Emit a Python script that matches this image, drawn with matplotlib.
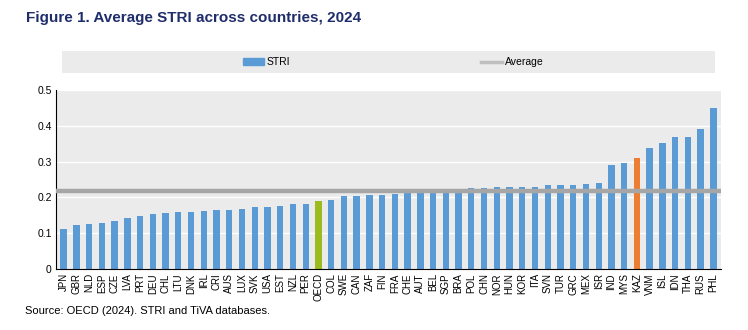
import matplotlib.pyplot as plt
from matplotlib.patches import Patch
from matplotlib.lines import Line2D

countries = ['JPN', 'GBR', 'NLD', 'ESP', 'CZE', 'LVA', 'PRT', 'DEU', 'CHL', 'LTU',
             'DNK', 'IRL', 'CRI', 'AUS', 'LUX', 'SVK', 'USA', 'EST', 'NZL', 'PER',
             'OECD', 'COL', 'SWE', 'CAN', 'ZAF', 'FIN', 'FRA', 'CHE', 'AUT', 'BEL',
             'SGP', 'BRA', 'POL', 'CHN', 'NOR', 'HUN', 'KOR', 'ITA', 'SVN', 'TUR',
             'GRC', 'MEX', 'ISR', 'IND', 'MYS', 'KAZ', 'VNM', 'ISL', 'IDN', 'THA',
             'RUS', 'PHL']

stri = [0.112, 0.124, 0.125, 0.129, 0.135, 0.142, 0.149, 0.153, 0.156, 0.159,
        0.160, 0.163, 0.164, 0.165, 0.167, 0.172, 0.173, 0.176, 0.181, 0.181,
        0.190, 0.193, 0.204, 0.205, 0.206, 0.206, 0.210, 0.212, 0.215, 0.217,
        0.217, 0.220, 0.226, 0.226, 0.228, 0.229, 0.229, 0.230, 0.235, 0.235,
        0.236, 0.237, 0.240, 0.291, 0.295, 0.309, 0.338, 0.351, 0.368, 0.368,
        0.390, 0.451]

average = 0.217

blue = '#5B9BD5'
highlight = {'OECD': '#9BBB1F', 'KAZ': '#ED7D31'}
colors = [highlight.get(c, blue) for c in countries]

plt.rcParams['font.family'] = ['Liberation Sans', 'DejaVu Sans']

fig = plt.figure(figsize=(7.48, 3.30), dpi=100)

# chart area
ax = fig.add_axes([56 / 748, 1 - 269 / 330, (721 - 56) / 748, (269 - 90) / 330])
ax.set_facecolor('#EBEBEB')
x = range(len(countries))
ax.bar(x, stri, width=0.5, color=colors, zorder=2)
ax.axhline(average, color='#A6A6A6', linewidth=3.2, zorder=3)
ax.set_xlim(-0.6, len(countries) - 0.4)
ax.set_ylim(0, 0.5)
ax.set_yticks([0, 0.1, 0.2, 0.3, 0.4, 0.5])
ax.set_yticklabels(['0', '0.1', '0.2', '0.3', '0.4', '0.5'], fontsize=7.5)
ax.yaxis.grid(True, color='white', linewidth=1, zorder=1)
ax.set_xticks(list(x))
ax.set_xticklabels(countries, rotation=90, fontsize=7)
ax.tick_params(axis='both', length=0, pad=3)
for side in ['top', 'right']:
    ax.spines[side].set_visible(False)
ax.spines['left'].set_color('black')
ax.spines['bottom'].set_color('black')
ax.spines['left'].set_linewidth(0.8)
ax.spines['bottom'].set_linewidth(0.8)

# legend band above the chart
lax = fig.add_axes([62 / 748, 1 - 73 / 330, (715 - 62) / 748, (73 - 51) / 330])
lax.set_facecolor('#EBEBEB')
lax.set_xticks([])
lax.set_yticks([])
for s in lax.spines.values():
    s.set_visible(False)
handles = [Patch(color=blue, label='STRI'),
           Line2D([0], [0], color='#BFBFBF', linewidth=2.5, label='Average')]
lax.legend(handles=handles, ncol=2, loc='center', frameon=False, fontsize=7.5,
           handlelength=2.0, handleheight=0.6, handletextpad=0.3,
           columnspacing=18.3, bbox_to_anchor=(0.507, 0.5))

fig.text(26 / 748, 1 - 18 / 330, 'Figure 1. Average STRI across countries, 2024',
         fontsize=11, fontweight='bold', color='#1F2D6B', va='center')
fig.text(25 / 748, 1 - 311 / 330, 'Source: OECD (2024). STRI and TiVA databases.',
         fontsize=8, color='black', va='center')

fig.savefig('out.png', dpi=100)
